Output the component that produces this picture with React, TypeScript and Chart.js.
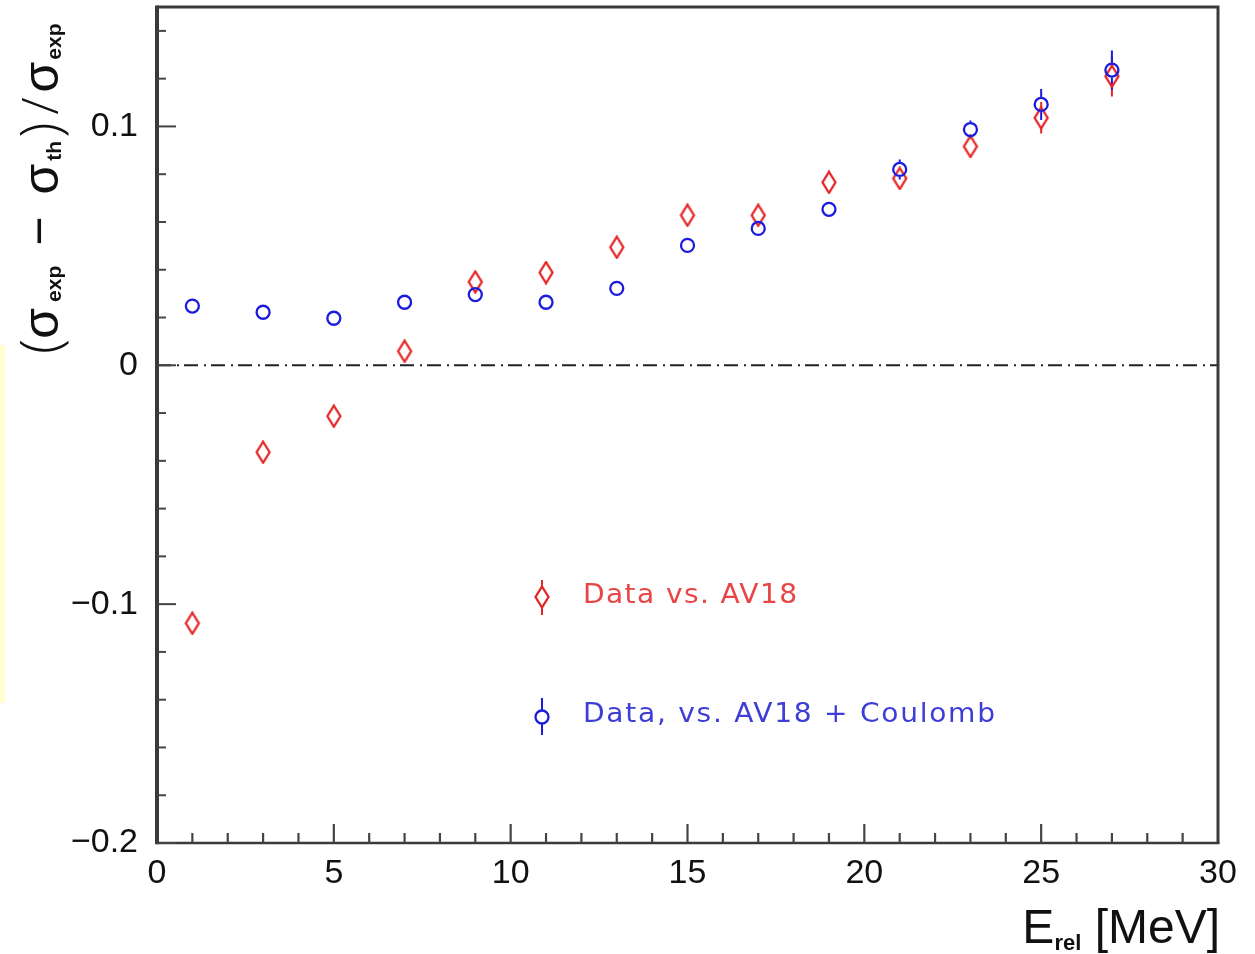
import React, { useEffect, useRef } from 'react';
import { Chart, registerables } from 'chart.js';

Chart.register(...registerables);

// ---- data ----
const energies = [1, 3, 5, 7, 9, 11, 13, 15, 17, 19, 21, 23, 25, 27];
const av18Values = [-0.108, -0.0364, -0.0213, 0.0059, 0.0349, 0.0388, 0.0494, 0.0628, 0.0628, 0.0766, 0.0782, 0.0916, 0.1036, 0.121];
const av18Errors = [0.003, 0.003, 0.003, 0.003, 0.003, 0.003, 0.003, 0.003, 0.003, 0.004, 0.0042, 0.0046, 0.0066, 0.0085];
const coulombValues = [0.0248, 0.0222, 0.0197, 0.0264, 0.0296, 0.0264, 0.0322, 0.0502, 0.0573, 0.0653, 0.082, 0.0987, 0.1092, 0.1236];
const coulombErrors = [0.002, 0.002, 0.002, 0.002, 0.002, 0.002, 0.002, 0.0025, 0.003, 0.003, 0.0042, 0.0038, 0.0065, 0.0082];

const xTickValues = [0, 5, 10, 15, 20, 25, 30];
const xTickLabels = ['0', '5', '10', '15', '20', '25', '30'];
const yTickValues = [-0.2, -0.1, 0, 0.1];
const yTickLabels = ['\u22120.2', '\u22120.1', '0', '0.1'];
const legendLabels = ['Data vs. AV18', 'Data, vs. AV18 + Coulomb'];

const X_MIN = 0, X_MAX = 30, Y_MIN = -0.2, Y_MAX = 0.15;
const X_MINOR_STEP = 1, Y_MINOR_STEP = 0.02;

const RED = 'rgb(228,38,38)';
const BLUE = 'rgb(28,28,222)';
const RED_TEXT = 'rgb(232,70,70)';
const BLUE_TEXT = 'rgb(62,62,214)';
const AXIS = '#3a3a3a';

const DIAMOND_HALF_H = 10.5;
const DIAMOND_HALF_W = 6.5;
const CIRCLE_R = 6.5;

function makeDiamond(): HTMLCanvasElement {
  const c = document.createElement('canvas');
  c.width = 18; c.height = 24;
  const g = c.getContext('2d')!;
  g.strokeStyle = RED;
  g.lineWidth = 2.3;
  g.beginPath();
  g.moveTo(9, 12 - DIAMOND_HALF_H);
  g.lineTo(9 + DIAMOND_HALF_W, 12);
  g.lineTo(9, 12 + DIAMOND_HALF_H);
  g.lineTo(9 - DIAMOND_HALF_W, 12);
  g.closePath();
  g.stroke();
  return c;
}

type Part = { t: string; font: string; dy: number; gap: number };

function drawParts(ctx: CanvasRenderingContext2D, parts: Part[], x: number, y: number) {
  let cx = x;
  for (const p of parts) {
    cx += p.gap;
    ctx.font = p.font;
    ctx.fillText(p.t, cx, y + p.dy);
    cx += ctx.measureText(p.t).width;
  }
  return cx;
}

function partsWidth(ctx: CanvasRenderingContext2D, parts: Part[]) {
  let w = 0;
  for (const p of parts) { ctx.font = p.font; w += p.gap + ctx.measureText(p.t).width; }
  return w;
}

function errBar(ctx: CanvasRenderingContext2D, px: number, yLo: number, yHi: number, yc: number, gap: number) {
  ctx.beginPath();
  if (yHi < yc - gap) { ctx.moveTo(px, yc - gap); ctx.lineTo(px, yHi); }
  if (yLo > yc + gap) { ctx.moveTo(px, yc + gap); ctx.lineTo(px, yLo); }
  ctx.stroke();
}

export default function App() {
  const ref = useRef<HTMLCanvasElement | null>(null);

  useEffect(() => {
    const canvas = ref.current!;
    const diamond = makeDiamond();

    const plugin = {
      id: 'rootStyle',
      beforeDraw(chart: any) {
        const ctx = chart.ctx as CanvasRenderingContext2D;
        ctx.save();
        ctx.fillStyle = '#ffffff';
        ctx.fillRect(0, 0, chart.width, chart.height);
        ctx.fillStyle = '#ffffcf';
        ctx.fillRect(0, 345, 5, 358);
        ctx.restore();
      },
      beforeDatasetsDraw(chart: any) {
        const ctx = chart.ctx as CanvasRenderingContext2D;
        const xs = chart.scales.x, ys = chart.scales.y;
        const sets = [
          { v: av18Values, e: av18Errors, c: RED, gap: DIAMOND_HALF_H },
          { v: coulombValues, e: coulombErrors, c: BLUE, gap: CIRCLE_R + 1 },
        ];
        ctx.save();
        ctx.lineWidth = 2;
        for (const s of sets) {
          ctx.strokeStyle = s.c;
          energies.forEach((en, i) => {
            const px = xs.getPixelForValue(en);
            errBar(ctx, px, ys.getPixelForValue(s.v[i] - s.e[i]), ys.getPixelForValue(s.v[i] + s.e[i]), ys.getPixelForValue(s.v[i]), s.gap);
          });
        }
        ctx.restore();
      },
      afterDraw(chart: any) {
        const ctx = chart.ctx as CanvasRenderingContext2D;
        const a = chart.chartArea;
        const xs = chart.scales.x, ys = chart.scales.y;
        ctx.save();
        // frame
        ctx.strokeStyle = AXIS;
        ctx.lineWidth = 3;
        ctx.beginPath();
        ctx.moveTo(a.left, a.top); ctx.lineTo(a.right, a.top);
        ctx.moveTo(a.right, a.top - 1.5); ctx.lineTo(a.right, a.bottom);
        ctx.stroke();
        ctx.lineWidth = 2.5;
        ctx.beginPath();
        ctx.moveTo(a.left, a.bottom); ctx.lineTo(a.right + 1.5, a.bottom);
        ctx.stroke();
        ctx.lineWidth = 4;
        ctx.beginPath();
        ctx.moveTo(a.left, a.top - 1.5); ctx.lineTo(a.left, a.bottom + 1.2);
        ctx.stroke();

        // y ticks (inward)
        ctx.lineWidth = 2;
        ctx.strokeStyle = '#444';
        for (let v = Y_MIN; v <= Y_MAX + 1e-9; v += Y_MINOR_STEP) {
          const r = Math.round(v * 100) / 100;
          const major = Math.abs(Math.round(r * 10) - r * 10) < 1e-6;
          const py = ys.getPixelForValue(r);
          ctx.beginPath();
          ctx.moveTo(a.left, py);
          ctx.lineTo(a.left + (major ? 19 : 9), py);
          ctx.stroke();
        }
        // x ticks (inward)
        ctx.lineWidth = 2.2;
        for (let v = X_MIN; v <= X_MAX; v += X_MINOR_STEP) {
          if (v === X_MIN || v === X_MAX) continue;
          const major = v % 5 === 0;
          const px = xs.getPixelForValue(v);
          ctx.beginPath();
          ctx.moveTo(px, a.bottom);
          ctx.lineTo(px, a.bottom - (major ? 19 : 10));
          ctx.stroke();
        }

        // x title
        ctx.fillStyle = '#111';
        ctx.textBaseline = 'alphabetic';
        ctx.textAlign = 'left';
        const xParts: Part[] = [
          { t: 'E', font: '48px "Liberation Sans"', dy: 0, gap: 0 },
          { t: 'rel', font: 'bold 22px "Liberation Sans"', dy: 7, gap: 0 },
          { t: ' [MeV]', font: '48px "Liberation Sans"', dy: 0, gap: 0 },
        ];
        const xw = partsWidth(ctx, xParts);
        drawParts(ctx, xParts, a.right + 2 - xw, 943);

        // y title (rotated, reading upward)
        ctx.save();
        ctx.translate(58, 354);
        ctx.rotate(-Math.PI / 2);
        const sig = '50px "Liberation Sans"';
        const thin = '300 56px "Open Sans"';
        const sub = 'bold 21px "Liberation Sans"';
        const yParts: Part[] = [
          { t: '(', font: thin, dy: 2, gap: 0 },
          { t: '\u03c3', font: sig, dy: 0, gap: 0 },
          { t: 'exp', font: sub, dy: 3, gap: 6 },
          { t: '\u2212', font: sig, dy: -2, gap: 20 },
          { t: '\u03c3', font: sig, dy: 0, gap: 22 },
          { t: 'th', font: sub, dy: 3, gap: 3 },
          { t: ')', font: thin, dy: 2, gap: 3 },
          { t: '/', font: '300 50px "Open Sans"', dy: 0, gap: 8 },
          { t: '\u03c3', font: sig, dy: 0, gap: 5 },
          { t: 'exp', font: sub, dy: 3, gap: 2 },
        ];
        drawParts(ctx, yParts, 0, 0);
        ctx.restore();

        // legend
        const lx = a.left + 385;
        const tx = a.left + 426;
        const ry = a.top + 590;
        const by = a.top + 710;
        ctx.lineWidth = 2;
        ctx.strokeStyle = RED;
        ctx.beginPath(); ctx.moveTo(lx, ry - 17); ctx.lineTo(lx, ry - DIAMOND_HALF_H); ctx.moveTo(lx, ry + DIAMOND_HALF_H); ctx.lineTo(lx, ry + 18); ctx.stroke();
        ctx.drawImage(diamond, lx - 9, ry - 12);
        ctx.strokeStyle = BLUE;
        ctx.beginPath(); ctx.moveTo(lx, by - 19); ctx.lineTo(lx, by - CIRCLE_R); ctx.moveTo(lx, by + CIRCLE_R); ctx.lineTo(lx, by + 18); ctx.stroke();
        ctx.lineWidth = 2.3;
        ctx.beginPath(); ctx.arc(lx, by, CIRCLE_R, 0, Math.PI * 2); ctx.stroke();

        ctx.textBaseline = 'middle';
        ctx.font = '26px "DejaVu Sans"';
        const targets = [214, 412];
        const cols = [RED_TEXT, BLUE_TEXT];
        const ys2 = [ry - 1, by - 2];
        const sx = 1.08;
        legendLabels.forEach((lab, i) => {
          (ctx as any).letterSpacing = '0px';
          const w = ctx.measureText(lab).width;
          const sp = (targets[i] / sx - w) / (lab.length - 1);
          (ctx as any).letterSpacing = sp.toFixed(2) + 'px';
          ctx.save();
          ctx.translate(tx, ys2[i]);
          ctx.scale(sx, 1);
          ctx.fillStyle = cols[i];
          ctx.fillText(lab, 0, 0);
          ctx.restore();
        });
        (ctx as any).letterSpacing = '0px';
        ctx.restore();
      },
    };

    const noPad = (s: any) => { s.paddingTop = 0; s.paddingBottom = 0; s.paddingLeft = 0; s.paddingRight = 0; };

    const chart = new Chart(canvas, {
      type: 'scatter',
      data: {
        datasets: [
          {
            label: legendLabels[1],
            data: energies.map((x, i) => ({ x, y: coulombValues[i] })),
            pointStyle: 'circle',
            pointRadius: CIRCLE_R,
            borderWidth: 2.3,
            borderColor: BLUE,
            backgroundColor: 'rgba(0,0,0,0)',
            order: 1,
          },
          {
            label: legendLabels[0],
            data: energies.map((x, i) => ({ x, y: av18Values[i] })),
            pointStyle: diamond as any,
            pointRadius: 10,
            borderColor: RED,
            backgroundColor: 'rgba(0,0,0,0)',
            order: 2,
          },
          {
            label: 'zero',
            type: 'line' as any,
            data: [{ x: X_MIN, y: 0 }, { x: X_MAX, y: 0 }],
            borderColor: '#222',
            borderWidth: 2,
            borderDash: [14, 6, 2, 5],
            pointRadius: 0,
            showLine: true,
            order: 3,
          } as any,
        ],
      },
      options: {
        animation: false,
        responsive: false,
        events: [],
        layout: { autoPadding: false, padding: { top: 7, right: 37, left: 0, bottom: 0 } },
        plugins: { legend: { display: false }, tooltip: { enabled: false } },
        scales: {
          x: {
            type: 'linear',
            min: X_MIN,
            max: X_MAX,
            afterBuildTicks: (s: any) => { s.ticks = xTickValues.map((v) => ({ value: v })); },
            afterFit: (s: any) => { s.height = 111; noPad(s); },
            grid: { display: false, drawTicks: false },
            border: { display: false },
            ticks: {
              autoSkip: false,
              maxRotation: 0,
              padding: 10,
              color: '#111',
              font: { family: 'Liberation Sans', size: 34 },
              callback: (_v: any, i: number) => xTickLabels[i],
            },
          },
          y: {
            type: 'linear',
            min: Y_MIN,
            max: Y_MAX,
            afterBuildTicks: (s: any) => { s.ticks = yTickValues.map((v) => ({ value: v })); },
            afterFit: (s: any) => { s.width = 157; noPad(s); },
            grid: { display: false, drawTicks: false },
            border: { display: false },
            ticks: {
              autoSkip: false,
              padding: 19,
              color: '#111',
              font: { family: 'Liberation Sans', size: 34 },
              callback: (_v: any, i: number) => yTickLabels[i],
            },
          },
        },
      },
      plugins: [plugin],
    } as any);

    return () => chart.destroy();
  }, []);

  return (
    <div style={{ position: 'absolute', left: 0, top: 0, width: 1255, height: 954, background: '#fff' }}>
      <canvas ref={ref} width={1255} height={954} style={{ display: 'block' }} />
    </div>
  );
}
